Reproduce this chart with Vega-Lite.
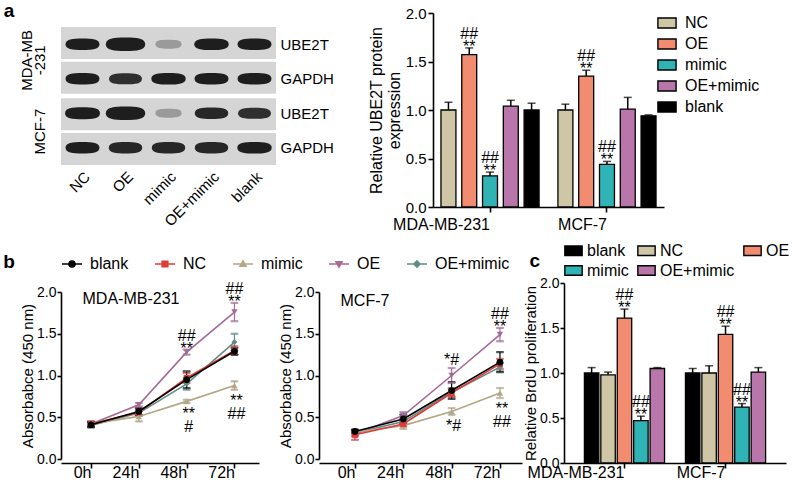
{
  "$schema": "https://vega.github.io/schema/vega-lite/v6.json",
  "padding": {"left": 3, "top": 2, "right": 0, "bottom": 0},
  "background": "white",
  "config": {
    "font": "Liberation Sans",
    "view": {"stroke": null},
    "axis": {"labelFont": "Liberation Sans", "titleFont": "Liberation Sans", "labelFontSize": 15, "titleFontSize": 15, "titleFontWeight": "normal", "labelColor": "black", "titleColor": "black", "domainColor": "black", "tickColor": "black", "domainWidth": 1.6, "tickWidth": 1.6, "tickSize": 5, "grid": false},
    "legend": {"labelFont": "Liberation Sans", "labelFontSize": 15, "labelColor": "black"},
    "title": {"font": "Liberation Sans", "color": "black"}
  },
  "datasets": {
    "blot": [
      {"row": "MDA-MB-231|UBE2T", "cell": "MDA-MB-231", "protein": "UBE2T", "lane": "NC", "intensity": 1.0},
      {"row": "MDA-MB-231|UBE2T", "cell": "MDA-MB-231", "protein": "UBE2T", "lane": "OE", "intensity": 1.6},
      {"row": "MDA-MB-231|UBE2T", "cell": "MDA-MB-231", "protein": "UBE2T", "lane": "mimic", "intensity": 0.3},
      {"row": "MDA-MB-231|UBE2T", "cell": "MDA-MB-231", "protein": "UBE2T", "lane": "OE+mimic", "intensity": 1.05},
      {"row": "MDA-MB-231|UBE2T", "cell": "MDA-MB-231", "protein": "UBE2T", "lane": "blank", "intensity": 1.0},
      {"row": "MDA-MB-231|GAPDH", "cell": "MDA-MB-231", "protein": "GAPDH", "lane": "NC", "intensity": 1.0},
      {"row": "MDA-MB-231|GAPDH", "cell": "MDA-MB-231", "protein": "GAPDH", "lane": "OE", "intensity": 0.9},
      {"row": "MDA-MB-231|GAPDH", "cell": "MDA-MB-231", "protein": "GAPDH", "lane": "mimic", "intensity": 1.05},
      {"row": "MDA-MB-231|GAPDH", "cell": "MDA-MB-231", "protein": "GAPDH", "lane": "OE+mimic", "intensity": 1.0},
      {"row": "MDA-MB-231|GAPDH", "cell": "MDA-MB-231", "protein": "GAPDH", "lane": "blank", "intensity": 1.0},
      {"row": "MCF-7|UBE2T", "cell": "MCF-7", "protein": "UBE2T", "lane": "NC", "intensity": 1.1},
      {"row": "MCF-7|UBE2T", "cell": "MCF-7", "protein": "UBE2T", "lane": "OE", "intensity": 1.6},
      {"row": "MCF-7|UBE2T", "cell": "MCF-7", "protein": "UBE2T", "lane": "mimic", "intensity": 0.3},
      {"row": "MCF-7|UBE2T", "cell": "MCF-7", "protein": "UBE2T", "lane": "OE+mimic", "intensity": 0.95},
      {"row": "MCF-7|UBE2T", "cell": "MCF-7", "protein": "UBE2T", "lane": "blank", "intensity": 0.9},
      {"row": "MCF-7|GAPDH", "cell": "MCF-7", "protein": "GAPDH", "lane": "NC", "intensity": 1.0},
      {"row": "MCF-7|GAPDH", "cell": "MCF-7", "protein": "GAPDH", "lane": "OE", "intensity": 0.95},
      {"row": "MCF-7|GAPDH", "cell": "MCF-7", "protein": "GAPDH", "lane": "mimic", "intensity": 0.95},
      {"row": "MCF-7|GAPDH", "cell": "MCF-7", "protein": "GAPDH", "lane": "OE+mimic", "intensity": 0.95},
      {"row": "MCF-7|GAPDH", "cell": "MCF-7", "protein": "GAPDH", "lane": "blank", "intensity": 1.05}
    ],
    "protein": [
      {"cell": "MDA-MB-231", "group": "NC", "value": 1.0, "hi": 1.08},
      {"cell": "MDA-MB-231", "group": "OE", "value": 1.57, "hi": 1.64},
      {"cell": "MDA-MB-231", "group": "mimic", "value": 0.32, "hi": 0.36},
      {"cell": "MDA-MB-231", "group": "OE+mimic", "value": 1.04, "hi": 1.1},
      {"cell": "MDA-MB-231", "group": "blank", "value": 1.0, "hi": 1.07},
      {"cell": "MCF-7", "group": "NC", "value": 1.0, "hi": 1.06},
      {"cell": "MCF-7", "group": "OE", "value": 1.35, "hi": 1.41},
      {"cell": "MCF-7", "group": "mimic", "value": 0.44, "hi": 0.47},
      {"cell": "MCF-7", "group": "OE+mimic", "value": 1.01, "hi": 1.13},
      {"cell": "MCF-7", "group": "blank", "value": 0.94, "hi": 0.95}
    ],
    "proteinNote": [
      {"cell": "MDA-MB-231", "group": "OE", "y": 1.64, "label": "##|**"},
      {"cell": "MDA-MB-231", "group": "mimic", "y": 0.36, "label": "##|**"},
      {"cell": "MCF-7", "group": "OE", "y": 1.41, "label": "##|**"},
      {"cell": "MCF-7", "group": "mimic", "y": 0.47, "label": "##|**"}
    ],
    "brdu": [
      {"cell": "MDA-MB-231", "group": "blank", "value": 1.0, "hi": 1.06},
      {"cell": "MDA-MB-231", "group": "NC", "value": 0.98, "hi": 1.01},
      {"cell": "MDA-MB-231", "group": "OE", "value": 1.61, "hi": 1.71},
      {"cell": "MDA-MB-231", "group": "mimic", "value": 0.47, "hi": 0.52},
      {"cell": "MDA-MB-231", "group": "OE+mimic", "value": 1.05, "hi": 1.06},
      {"cell": "MCF-7", "group": "blank", "value": 1.0, "hi": 1.05},
      {"cell": "MCF-7", "group": "NC", "value": 1.0, "hi": 1.08},
      {"cell": "MCF-7", "group": "OE", "value": 1.43, "hi": 1.52},
      {"cell": "MCF-7", "group": "mimic", "value": 0.62, "hi": 0.66},
      {"cell": "MCF-7", "group": "OE+mimic", "value": 1.01, "hi": 1.06}
    ],
    "brduNote": [
      {"cell": "MDA-MB-231", "group": "OE", "y": 1.71, "label": "##|**"},
      {"cell": "MDA-MB-231", "group": "mimic", "y": 0.52, "label": "##|**"},
      {"cell": "MCF-7", "group": "OE", "y": 1.52, "label": "##|**"},
      {"cell": "MCF-7", "group": "mimic", "y": 0.66, "label": "##|**"}
    ],
    "cck8": [
      {"cell": "MDA-MB-231", "group": "OE", "time": "0h", "value": 0.42, "lo": 0.4, "hi": 0.44},
      {"cell": "MDA-MB-231", "group": "OE", "time": "24h", "value": 0.65, "lo": 0.63, "hi": 0.67},
      {"cell": "MDA-MB-231", "group": "OE", "time": "48h", "value": 1.28, "lo": 1.25, "hi": 1.31},
      {"cell": "MDA-MB-231", "group": "OE", "time": "72h", "value": 1.76, "lo": 1.65, "hi": 1.87},
      {"cell": "MDA-MB-231", "group": "OE+mimic", "time": "0h", "value": 0.4, "lo": 0.38, "hi": 0.42},
      {"cell": "MDA-MB-231", "group": "OE+mimic", "time": "24h", "value": 0.55, "lo": 0.52, "hi": 0.58},
      {"cell": "MDA-MB-231", "group": "OE+mimic", "time": "48h", "value": 0.9, "lo": 0.83, "hi": 0.97},
      {"cell": "MDA-MB-231", "group": "OE+mimic", "time": "72h", "value": 1.4, "lo": 1.3, "hi": 1.5},
      {"cell": "MDA-MB-231", "group": "mimic", "time": "0h", "value": 0.42, "lo": 0.39, "hi": 0.45},
      {"cell": "MDA-MB-231", "group": "mimic", "time": "24h", "value": 0.51, "lo": 0.45, "hi": 0.57},
      {"cell": "MDA-MB-231", "group": "mimic", "time": "48h", "value": 0.69, "lo": 0.67, "hi": 0.71},
      {"cell": "MDA-MB-231", "group": "mimic", "time": "72h", "value": 0.88, "lo": 0.83, "hi": 0.93},
      {"cell": "MDA-MB-231", "group": "NC", "time": "0h", "value": 0.42, "lo": 0.39, "hi": 0.45},
      {"cell": "MDA-MB-231", "group": "NC", "time": "24h", "value": 0.56, "lo": 0.52, "hi": 0.6},
      {"cell": "MDA-MB-231", "group": "NC", "time": "48h", "value": 0.97, "lo": 0.91, "hi": 1.03},
      {"cell": "MDA-MB-231", "group": "NC", "time": "72h", "value": 1.3, "lo": 1.25, "hi": 1.35},
      {"cell": "MDA-MB-231", "group": "blank", "time": "0h", "value": 0.41, "lo": 0.38, "hi": 0.44},
      {"cell": "MDA-MB-231", "group": "blank", "time": "24h", "value": 0.57, "lo": 0.53, "hi": 0.61},
      {"cell": "MDA-MB-231", "group": "blank", "time": "48h", "value": 0.95, "lo": 0.85, "hi": 1.05},
      {"cell": "MDA-MB-231", "group": "blank", "time": "72h", "value": 1.29, "lo": 1.25, "hi": 1.33},
      {"cell": "MCF-7", "group": "OE", "time": "0h", "value": 0.3, "lo": 0.27, "hi": 0.33},
      {"cell": "MCF-7", "group": "OE", "time": "24h", "value": 0.52, "lo": 0.48, "hi": 0.56},
      {"cell": "MCF-7", "group": "OE", "time": "48h", "value": 1.0, "lo": 0.91, "hi": 1.09},
      {"cell": "MCF-7", "group": "OE", "time": "72h", "value": 1.49, "lo": 1.41, "hi": 1.57},
      {"cell": "MCF-7", "group": "OE+mimic", "time": "0h", "value": 0.31, "lo": 0.28, "hi": 0.34},
      {"cell": "MCF-7", "group": "OE+mimic", "time": "24h", "value": 0.45, "lo": 0.42, "hi": 0.48},
      {"cell": "MCF-7", "group": "OE+mimic", "time": "48h", "value": 0.8, "lo": 0.75, "hi": 0.85},
      {"cell": "MCF-7", "group": "OE+mimic", "time": "72h", "value": 1.1, "lo": 1.05, "hi": 1.15},
      {"cell": "MCF-7", "group": "mimic", "time": "0h", "value": 0.32, "lo": 0.29, "hi": 0.35},
      {"cell": "MCF-7", "group": "mimic", "time": "24h", "value": 0.4, "lo": 0.36, "hi": 0.44},
      {"cell": "MCF-7", "group": "mimic", "time": "48h", "value": 0.57, "lo": 0.53, "hi": 0.61},
      {"cell": "MCF-7", "group": "mimic", "time": "72h", "value": 0.79, "lo": 0.73, "hi": 0.85},
      {"cell": "MCF-7", "group": "NC", "time": "0h", "value": 0.29, "lo": 0.23, "hi": 0.35},
      {"cell": "MCF-7", "group": "NC", "time": "24h", "value": 0.42, "lo": 0.39, "hi": 0.45},
      {"cell": "MCF-7", "group": "NC", "time": "48h", "value": 0.79, "lo": 0.74, "hi": 0.84},
      {"cell": "MCF-7", "group": "NC", "time": "72h", "value": 1.14, "lo": 1.08, "hi": 1.2},
      {"cell": "MCF-7", "group": "blank", "time": "0h", "value": 0.33, "lo": 0.31, "hi": 0.35},
      {"cell": "MCF-7", "group": "blank", "time": "24h", "value": 0.48, "lo": 0.43, "hi": 0.53},
      {"cell": "MCF-7", "group": "blank", "time": "48h", "value": 0.82, "lo": 0.72, "hi": 0.92},
      {"cell": "MCF-7", "group": "blank", "time": "72h", "value": 1.16, "lo": 1.04, "hi": 1.28}
    ],
    "cck8Note": [
      {"cell": "MDA-MB-231", "time": "48h", "y": 1.31, "label": "##|**", "pos": "above"},
      {"cell": "MDA-MB-231", "time": "72h", "y": 1.87, "label": "##|**", "pos": "above"},
      {"cell": "MDA-MB-231", "time": "48h", "y": 0.67, "label": "**|#", "pos": "below"},
      {"cell": "MDA-MB-231", "time": "72h", "y": 0.83, "label": "**|##", "pos": "below"},
      {"cell": "MCF-7", "time": "48h", "y": 1.09, "label": "*#", "pos": "above1"},
      {"cell": "MCF-7", "time": "72h", "y": 1.57, "label": "##|**", "pos": "above"},
      {"cell": "MCF-7", "time": "48h", "y": 0.53, "label": "*#", "pos": "below"},
      {"cell": "MCF-7", "time": "72h", "y": 0.73, "label": "**|##", "pos": "below"}
    ]
  },
  "resolve": {"scale": {"color": "independent", "stroke": "independent", "xOffset": "independent"}},
  "spacing": 9,
  "vconcat": [
    {
      "hconcat": [
        {
          "title": {"text": "a", "orient": "left", "anchor": "end", "angle": 0, "baseline": "top", "align": "right", "fontSize": 19, "fontWeight": "bold", "offset": -6, "dy": -11},
          "width": 215,
          "height": 194,
          "layer": [
            {
              "data": {"name": "blot"},
              "mark": {"type": "rect", "fill": "#d5d5d5"},
              "encoding": {
                "x": {"field": "lane", "type": "nominal", "sort": null, "scale": {"domain": ["NC", "OE", "mimic", "OE+mimic", "blank"], "paddingInner": 0, "paddingOuter": 0}, "axis": {"orient": "bottom", "offset": -42, "labelAngle": -45, "ticks": false, "domain": false, "title": null, "labelFontSize": 15, "labelPadding": 4}},
                "y": {"field": "cell", "type": "nominal", "sort": null, "scale": {"domain": ["MDA-MB-231", "MCF-7"], "range": [14, 152], "paddingInner": 0.065, "paddingOuter": 0}, "axis": {"orient": "left", "labelAngle": -90, "labelBaseline": "bottom", "ticks": false, "domain": false, "title": null, "labelFontSize": 15, "labelPadding": 27, "labelLineHeight": 13, "labelExpr": "datum.value == 'MDA-MB-231' ? ['MDA-MB', '-231'] : ['', 'MCF-7']"}},
                "yOffset": {"field": "protein", "type": "nominal", "sort": null, "scale": {"domain": ["UBE2T", "GAPDH"], "paddingInner": 0.08, "paddingOuter": 0}}
              }
            },
            {
              "data": {"name": "blot"},
              "mark": {"type": "point", "filled": true, "color": "#141414", "shape": "M-1,0C-1,-0.3 -0.6,-0.34 0,-0.34C0.6,-0.34 1,-0.3 1,0C1,0.3 0.6,0.34 0,0.34C-0.6,0.34 -1,0.3 -1,0Z"},
              "encoding": {
                "x": {"field": "lane", "type": "nominal", "sort": null},
                "y": {"field": "row", "type": "nominal", "sort": null, "scale": {"domain": ["MDA-MB-231|UBE2T", "MDA-MB-231|GAPDH", "MCF-7|UBE2T", "MCF-7|GAPDH"], "range": [14, 152], "paddingInner": 0.08, "paddingOuter": 0.02}, "axis": {"orient": "right", "ticks": false, "domain": false, "title": null, "labelFontSize": 15, "labelPadding": 4, "labelExpr": "split(datum.value, '|')[1]"}},
                "size": {"field": "intensity", "type": "quantitative", "scale": {"domain": [0.3, 1.6], "range": [680, 1550]}, "legend": null},
                "opacity": {"field": "intensity", "type": "quantitative", "scale": {"domain": [0.3, 1.0], "range": [0.3, 0.95], "clamp": true}, "legend": null}
              }
            }
          ],
          "resolve": {"scale": {"y": "independent"}, "axis": {"y": "independent"}}
        },
        {
          "width": 231,
          "height": 194,
          "layer": [
            {
              "data": {"name": "protein"},
              "mark": {"type": "rule", "color": "black", "strokeWidth": 1.5},
              "encoding": {
                "x": {"field": "cell", "type": "nominal", "sort": null},
                "xOffset": {"field": "group", "type": "nominal", "sort": null},
                "y": {"field": "value", "type": "quantitative"},
                "y2": {"field": "hi"}
              }
            },
            {
              "data": {"name": "protein"},
              "mark": {"type": "tick", "color": "black", "thickness": 1.5, "size": 8},
              "encoding": {
                "x": {"field": "cell", "type": "nominal", "sort": null},
                "xOffset": {"field": "group", "type": "nominal", "sort": null},
                "y": {"field": "hi", "type": "quantitative"}
              }
            },
            {
              "data": {"name": "protein"},
              "mark": {"type": "bar", "stroke": "black", "strokeWidth": 1.3},
              "encoding": {
                "x": {"field": "cell", "type": "nominal", "sort": null, "scale": {"domain": ["MDA-MB-231", "MCF-7"], "paddingInner": 0.103, "paddingOuter": 0.039}, "axis": {"title": null, "labelAngle": 0, "labelFontSize": 16, "labelPadding": 12}},
                "xOffset": {"field": "group", "type": "nominal", "sort": null, "scale": {"domain": ["NC", "OE", "mimic", "OE+mimic", "blank"], "paddingInner": 0.28, "paddingOuter": 0.164}},
                "y": {"field": "value", "type": "quantitative", "scale": {"domain": [0, 2]}, "axis": {"values": [0, 0.5, 1, 1.5, 2], "format": ".1f", "title": ["Relative UBE2T protein", "expression"], "titleFontSize": 16, "labelFontSize": 15, "titlePadding": 3, "labelPadding": 2}},
                "color": {"field": "group", "type": "nominal", "scale": {"domain": ["NC", "OE", "mimic", "OE+mimic", "blank"], "range": ["#cfc6a6", "#f28c70", "#2fb3b5", "#b876aa", "#000000"]}, "legend": {"title": null, "orient": "right", "offset": -7, "labelFontSize": 16, "symbolType": "M-1,-0.55H1V0.55H-1Z", "symbolSize": 330, "symbolStrokeColor": "black", "symbolStrokeWidth": 1.4, "rowPadding": 3, "labelOffset": 8, "padding": 0}}
              }
            },
            {
              "data": {"name": "proteinNote"},
              "mark": {"type": "text", "baseline": "alphabetic", "dy": -9, "fontSize": 16, "lineBreak": "|", "lineHeight": 13, "color": "black"},
              "encoding": {
                "x": {"field": "cell", "type": "nominal", "sort": null},
                "xOffset": {"field": "group", "type": "nominal", "sort": null},
                "y": {"field": "y", "type": "quantitative"},
                "text": {"field": "label"}
              }
            }
          ]
        }
      ],
      "spacing": 34,
      "resolve": {"scale": {"color": "independent", "xOffset": "independent"}}
    },
    {
      "hconcat": [
        {
          "title": {"text": "b", "orient": "left", "anchor": "end", "angle": 0, "baseline": "top", "align": "right", "fontSize": 19, "fontWeight": "bold", "offset": -6},
          "hconcat": [
            {
              "title": {"text": "MDA-MB-231", "anchor": "start", "fontSize": 16, "fontWeight": "normal", "offset": -26, "dx": 62},
              "width": 198,
              "height": 180,
              "data": {"name": "cck8"},
              "transform": [{"filter": "datum.cell == 'MDA-MB-231'"}],
              "layer": [
                {
                  "mark": {"type": "rule", "strokeWidth": 1.2},
                  "encoding": {
                    "x": {"field": "time", "type": "nominal", "sort": null},
                    "y": {"field": "lo", "type": "quantitative"},
                    "y2": {"field": "hi"},
                    "stroke": {"field": "group", "type": "nominal", "scale": {"domain": ["blank", "NC", "mimic", "OE", "OE+mimic"], "range": ["#000000", "#e23b36", "#b5a685", "#a56a98", "#5f8d85"]}, "legend": {"title": null, "orient": "top", "direction": "horizontal", "labelFontSize": 16, "symbolSize": 400, "symbolStrokeWidth": 1.6, "symbolType": "M-1,0L1,0M-0.3,0A0.3,0.3 0 1,1 0.3,0A0.3,0.3 0 1,1 -0.3,0Z", "columnPadding": 22, "labelOffset": 7, "offset": 8, "padding": 0, "encode": {"symbols": {"update": {"shape": {"signal": "datum.value === 'blank' ? 'M-1,0L1,0M-0.3,0A0.3,0.3 0 1,1 0.3,0A0.3,0.3 0 1,1 -0.3,0Z' : datum.value === 'NC' ? 'M-1,0L1,0M-0.28,-0.28L0.28,-0.28L0.28,0.28L-0.28,0.28Z' : datum.value === 'mimic' ? 'M-1,0L1,0M0,-0.32L0.3,0.22L-0.3,0.22Z' : datum.value === 'OE' ? 'M-1,0L1,0M0,0.32L0.3,-0.22L-0.3,-0.22Z' : 'M-1,0L1,0M0,-0.3L0.3,0L0,0.3L-0.3,0Z'"}, "fill": {"signal": "datum.value === 'blank' ? '#000000' : datum.value === 'NC' ? '#e23b36' : datum.value === 'mimic' ? '#b5a685' : datum.value === 'OE' ? '#a56a98' : '#5f8d85'"}}}}}}
                  }
                },
                {
                  "mark": {"type": "tick", "thickness": 1.2, "size": 7},
                  "encoding": {
                    "x": {"field": "time", "type": "nominal", "sort": null},
                    "y": {"field": "hi", "type": "quantitative"},
                    "stroke": {"field": "group", "type": "nominal"}
                  }
                },
                {
                  "mark": {"type": "tick", "thickness": 1.2, "size": 7},
                  "encoding": {
                    "x": {"field": "time", "type": "nominal", "sort": null},
                    "y": {"field": "lo", "type": "quantitative"},
                    "stroke": {"field": "group", "type": "nominal"}
                  }
                },
                {
                  "mark": {"type": "line", "strokeWidth": 1.6},
                  "encoding": {
                    "x": {"field": "time", "type": "nominal", "sort": null, "scale": {"type": "point", "domain": ["0h", "24h", "48h", "72h"], "padding": 0.57, "align": 0.55}, "axis": {"title": null, "labelAngle": 0, "labelFontSize": 16, "labelPadding": 4}},
                    "y": {"field": "value", "type": "quantitative", "scale": {"domain": [0, 2], "range": [176, 9]}, "axis": {"values": [0, 0.5, 1, 1.5, 2], "format": ".1f", "title": "Absorbabce (450 nm)", "titleFontSize": 15, "labelFontSize": 14, "tickSize": 4, "titlePadding": 1, "labelPadding": 1}},
                    "stroke": {"field": "group", "type": "nominal"}
                  }
                },
                {"transform": [{"filter": "datum.group == 'OE'"}], "mark": {"type": "point", "filled": true, "size": 40, "opacity": 1, "shape": "triangle-down", "color": "#a56a98"}, "encoding": {"x": {"field": "time", "type": "nominal", "sort": null}, "y": {"field": "value", "type": "quantitative"}}},
                {"transform": [{"filter": "datum.group == 'OE+mimic'"}], "mark": {"type": "point", "filled": true, "size": 36, "opacity": 1, "shape": "diamond", "color": "#5f8d85"}, "encoding": {"x": {"field": "time", "type": "nominal", "sort": null}, "y": {"field": "value", "type": "quantitative"}}},
                {"transform": [{"filter": "datum.group == 'mimic'"}], "mark": {"type": "point", "filled": true, "size": 40, "opacity": 1, "shape": "triangle-up", "color": "#b5a685"}, "encoding": {"x": {"field": "time", "type": "nominal", "sort": null}, "y": {"field": "value", "type": "quantitative"}}},
                {"transform": [{"filter": "datum.group == 'NC'"}], "mark": {"type": "point", "filled": true, "size": 36, "opacity": 1, "shape": "square", "color": "#e23b36"}, "encoding": {"x": {"field": "time", "type": "nominal", "sort": null}, "y": {"field": "value", "type": "quantitative"}}},
                {"transform": [{"filter": "datum.group == 'blank'"}], "mark": {"type": "point", "filled": true, "size": 45, "opacity": 1, "shape": "circle", "color": "#000000"}, "encoding": {"x": {"field": "time", "type": "nominal", "sort": null}, "y": {"field": "value", "type": "quantitative"}}},
                {
                  "data": {"name": "cck8Note"},
                  "transform": [{"filter": "datum.cell == 'MDA-MB-231' && datum.pos == 'above'"}],
                  "mark": {"type": "text", "baseline": "alphabetic", "dy": -9, "fontSize": 16, "lineBreak": "|", "lineHeight": 13, "color": "black"},
                  "encoding": {
                    "x": {"field": "time", "type": "nominal", "sort": null},
                    "y": {"field": "y", "type": "quantitative"},
                    "text": {"field": "label"}
                  }
                },
                {
                  "data": {"name": "cck8Note"},
                  "transform": [{"filter": "datum.cell == 'MDA-MB-231' && datum.pos == 'below'"}],
                  "mark": {"type": "text", "baseline": "alphabetic", "dy": 16, "dx": 2, "fontSize": 16, "lineBreak": "|", "lineHeight": 13, "color": "black"},
                  "encoding": {
                    "x": {"field": "time", "type": "nominal", "sort": null},
                    "y": {"field": "y", "type": "quantitative"},
                    "text": {"field": "label"}
                  }
                }
              ]
            },
            {
              "title": {"text": "MCF-7", "anchor": "start", "fontSize": 16, "fontWeight": "normal", "offset": -26, "dx": 62},
              "width": 203,
              "height": 180,
              "data": {"name": "cck8"},
              "transform": [{"filter": "datum.cell == 'MCF-7'"}],
              "layer": [
                {
                  "mark": {"type": "rule", "strokeWidth": 1.2},
                  "encoding": {
                    "x": {"field": "time", "type": "nominal", "sort": null},
                    "y": {"field": "lo", "type": "quantitative"},
                    "y2": {"field": "hi"},
                    "stroke": {"field": "group", "type": "nominal"}
                  }
                },
                {
                  "mark": {"type": "tick", "thickness": 1.2, "size": 7},
                  "encoding": {
                    "x": {"field": "time", "type": "nominal", "sort": null},
                    "y": {"field": "hi", "type": "quantitative"},
                    "stroke": {"field": "group", "type": "nominal"}
                  }
                },
                {
                  "mark": {"type": "tick", "thickness": 1.2, "size": 7},
                  "encoding": {
                    "x": {"field": "time", "type": "nominal", "sort": null},
                    "y": {"field": "lo", "type": "quantitative"},
                    "stroke": {"field": "group", "type": "nominal"}
                  }
                },
                {
                  "mark": {"type": "line", "strokeWidth": 1.6},
                  "encoding": {
                    "x": {"field": "time", "type": "nominal", "sort": null, "scale": {"type": "point", "domain": ["0h", "24h", "48h", "72h"], "padding": 0.6, "align": 0.62}, "axis": {"title": null, "labelAngle": 0, "labelFontSize": 16, "labelPadding": 4}},
                    "y": {"field": "value", "type": "quantitative", "scale": {"domain": [0, 2], "range": [176, 9]}, "axis": {"values": [0, 0.5, 1, 1.5, 2], "format": ".1f", "title": "Absorbabce (450 nm)", "titleFontSize": 15, "labelFontSize": 14, "tickSize": 4, "titlePadding": 1, "labelPadding": 1}},
                    "stroke": {"field": "group", "type": "nominal"}
                  }
                },
                {"transform": [{"filter": "datum.group == 'OE'"}], "mark": {"type": "point", "filled": true, "size": 40, "opacity": 1, "shape": "triangle-down", "color": "#a56a98"}, "encoding": {"x": {"field": "time", "type": "nominal", "sort": null}, "y": {"field": "value", "type": "quantitative"}}},
                {"transform": [{"filter": "datum.group == 'OE+mimic'"}], "mark": {"type": "point", "filled": true, "size": 36, "opacity": 1, "shape": "diamond", "color": "#5f8d85"}, "encoding": {"x": {"field": "time", "type": "nominal", "sort": null}, "y": {"field": "value", "type": "quantitative"}}},
                {"transform": [{"filter": "datum.group == 'mimic'"}], "mark": {"type": "point", "filled": true, "size": 40, "opacity": 1, "shape": "triangle-up", "color": "#b5a685"}, "encoding": {"x": {"field": "time", "type": "nominal", "sort": null}, "y": {"field": "value", "type": "quantitative"}}},
                {"transform": [{"filter": "datum.group == 'NC'"}], "mark": {"type": "point", "filled": true, "size": 36, "opacity": 1, "shape": "square", "color": "#e23b36"}, "encoding": {"x": {"field": "time", "type": "nominal", "sort": null}, "y": {"field": "value", "type": "quantitative"}}},
                {"transform": [{"filter": "datum.group == 'blank'"}], "mark": {"type": "point", "filled": true, "size": 45, "opacity": 1, "shape": "circle", "color": "#000000"}, "encoding": {"x": {"field": "time", "type": "nominal", "sort": null}, "y": {"field": "value", "type": "quantitative"}}},
                {
                  "data": {"name": "cck8Note"},
                  "transform": [{"filter": "datum.cell == 'MCF-7' && datum.pos == 'above'"}],
                  "mark": {"type": "text", "baseline": "alphabetic", "dy": -9, "fontSize": 16, "lineBreak": "|", "lineHeight": 13, "color": "black"},
                  "encoding": {
                    "x": {"field": "time", "type": "nominal", "sort": null},
                    "y": {"field": "y", "type": "quantitative"},
                    "text": {"field": "label"}
                  }
                },
                {
                  "data": {"name": "cck8Note"},
                  "transform": [{"filter": "datum.cell == 'MCF-7' && datum.pos == 'above1'"}],
                  "mark": {"type": "text", "baseline": "alphabetic", "dy": -3, "fontSize": 16, "color": "black"},
                  "encoding": {
                    "x": {"field": "time", "type": "nominal", "sort": null},
                    "y": {"field": "y", "type": "quantitative"},
                    "text": {"field": "label"}
                  }
                },
                {
                  "data": {"name": "cck8Note"},
                  "transform": [{"filter": "datum.cell == 'MCF-7' && datum.pos == 'below'"}],
                  "mark": {"type": "text", "baseline": "alphabetic", "dy": 16, "dx": 2, "fontSize": 16, "lineBreak": "|", "lineHeight": 13, "color": "black"},
                  "encoding": {
                    "x": {"field": "time", "type": "nominal", "sort": null},
                    "y": {"field": "y", "type": "quantitative"},
                    "text": {"field": "label"}
                  }
                }
              ]
            }
          ],
          "spacing": 19,
          "resolve": {"scale": {"stroke": "shared", "y": "independent", "x": "independent"}}
        },
        {
          "title": {"text": "c", "anchor": "start", "frame": "bounds", "fontSize": 19, "fontWeight": "bold", "offset": -30, "dx": 6},
          "width": 222,
          "height": 180,
          "layer": [
            {
              "data": {"name": "brdu"},
              "mark": {"type": "rule", "color": "black", "strokeWidth": 1.5},
              "encoding": {
                "x": {"field": "cell", "type": "nominal", "sort": null},
                "xOffset": {"field": "group", "type": "nominal", "sort": null},
                "y": {"field": "value", "type": "quantitative"},
                "y2": {"field": "hi"}
              }
            },
            {
              "data": {"name": "brdu"},
              "mark": {"type": "tick", "color": "black", "thickness": 1.5, "size": 8},
              "encoding": {
                "x": {"field": "cell", "type": "nominal", "sort": null},
                "xOffset": {"field": "group", "type": "nominal", "sort": null},
                "y": {"field": "hi", "type": "quantitative"}
              }
            },
            {
              "data": {"name": "brdu"},
              "mark": {"type": "bar", "stroke": "black", "strokeWidth": 1.3},
              "encoding": {
                "x": {"field": "cell", "type": "nominal", "sort": null, "scale": {"domain": ["MDA-MB-231", "MCF-7"], "paddingInner": 0.133, "paddingOuter": 0.165}, "axis": {"title": null, "labelAngle": 0, "labelFontSize": 16, "labelPadding": 4}},
                "xOffset": {"field": "group", "type": "nominal", "sort": null, "scale": {"domain": ["blank", "NC", "OE", "mimic", "OE+mimic"], "paddingInner": 0.12, "paddingOuter": 0.227}},
                "y": {"field": "value", "type": "quantitative", "scale": {"domain": [0, 2]}, "axis": {"values": [0, 0.5, 1, 1.5, 2], "format": ".1f", "title": "Relative BrdU proliferation", "titleFontSize": 15, "labelFontSize": 14, "tickSize": 4, "titlePadding": 1, "labelPadding": 1}},
                "color": {"field": "group", "type": "nominal", "scale": {"domain": ["blank", "NC", "OE", "mimic", "OE+mimic"], "range": ["#000000", "#cfc6a6", "#f28c70", "#2fb3b5", "#b876aa"]}, "legend": {"title": null, "orient": "top", "direction": "horizontal", "columns": 3, "offset": 4, "labelFontSize": 16, "symbolType": "M-1,-0.55H1V0.55H-1Z", "symbolSize": 300, "symbolStrokeColor": "black", "symbolStrokeWidth": 1.4, "rowPadding": 2, "columnPadding": 6, "labelOffset": 4, "padding": 0}}
              }
            },
            {
              "data": {"name": "brduNote"},
              "mark": {"type": "text", "baseline": "alphabetic", "dy": -9, "fontSize": 16, "lineBreak": "|", "lineHeight": 13, "color": "black"},
              "encoding": {
                "x": {"field": "cell", "type": "nominal", "sort": null},
                "xOffset": {"field": "group", "type": "nominal", "sort": null},
                "y": {"field": "y", "type": "quantitative"},
                "text": {"field": "label"}
              }
            }
          ]
        }
      ],
      "spacing": 1,
      "resolve": {"scale": {"color": "independent", "stroke": "independent", "xOffset": "independent"}}
    }
  ]
}
